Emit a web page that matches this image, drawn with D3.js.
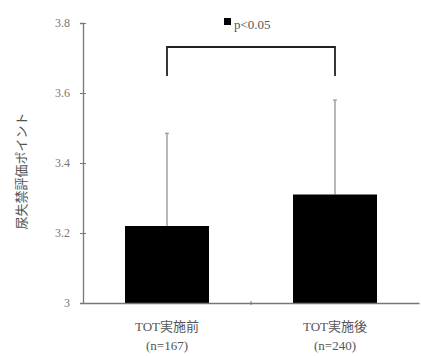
<!DOCTYPE html>
<html lang="ja">
<head>
<meta charset="utf-8">
<title>TOT bar chart</title>
<script src="https://cdn.jsdelivr.net/npm/d3@7"></script>
<style>
  body { margin: 0; background: #fff; }
  text { font-family: "Liberation Serif", "Noto Sans CJK JP", serif; fill: #555; }
</style>
</head>
<body>
<script>
// chart values
var groups = ["TOT実施前", "TOT実施後"];
var counts = ["(n=167)", "(n=240)"];
var means = [3.22, 3.31];
var sds = [0.265, 0.27];
var yTicks = [3, 3.2, 3.4, 3.6, 3.8];
var yLabel = "尿失禁評価ポイント";
var sigLabel = "p<0.05";

var W = 421, H = 356;
var plot = {left: 83, right: 419, top: 23, bottom: 303};

var svg = d3.select("body").append("svg")
    .attr("width", W)
    .attr("height", H);

var x = d3.scaleBand().domain(groups).range([plot.left, plot.right]).paddingInner(0).paddingOuter(0);
var y = d3.scaleLinear().domain([3, 3.8]).range([plot.bottom, plot.top]);

// error bars (drawn first, bar covers lower part)
var barW = x.bandwidth() / 2;
groups.forEach(function(g, i) {
    var cx = x(g) + x.bandwidth() / 2;
    svg.append("line")
        .attr("x1", cx).attr("x2", cx)
        .attr("y1", y(means[i])).attr("y2", y(means[i] + sds[i]))
        .attr("stroke", "#888").attr("stroke-width", 1.2);
    svg.append("line")
        .attr("x1", cx - 2).attr("x2", cx + 2)
        .attr("y1", y(means[i] + sds[i])).attr("y2", y(means[i] + sds[i]))
        .attr("stroke", "#888").attr("stroke-width", 1);
});

// bars
svg.selectAll(".bar")
    .data(groups)
    .enter().append("rect")
    .attr("class", "bar")
    .attr("x", function(d) { return x(d) + x.bandwidth() / 4; })
    .attr("width", barW)
    .attr("y", function(d, i) { return y(means[i]); })
    .attr("height", function(d, i) { return y(3) - y(means[i]); })
    .attr("fill", "#000");

// y axis
var yAxis = svg.append("g")
    .attr("transform", "translate(" + plot.left + ",0)")
    .call(d3.axisLeft(y).tickValues(yTicks).tickSize(3).tickPadding(10));
yAxis.attr("font-family", "Liberation Serif, serif");
yAxis.select(".domain").attr("stroke", "#777").attr("stroke-width", 1.3);
yAxis.selectAll(".tick line").attr("stroke", "#777").attr("x2", 3).attr("x1", -3);
yAxis.selectAll(".tick text").attr("font-size", 12).style("fill", "#777")
    .style("font-family", "'Liberation Serif', serif")
    .text(function(d) { return d === 3 ? "3" : d3.format(".1f")(d); });

// x axis
var xAxis = svg.append("g")
    .attr("transform", "translate(0," + plot.bottom + ")")
    .call(d3.axisBottom(x).tickSize(0).tickFormat(""));
xAxis.select(".domain").attr("stroke", "#777").attr("stroke-width", 1.3);
svg.append("line")
    .attr("x1", x(groups[1])).attr("x2", x(groups[1]))
    .attr("y1", plot.bottom - 2).attr("y2", plot.bottom + 2)
    .attr("stroke", "#777");

// category labels
groups.forEach(function(g, i) {
    var cx = x(g) + x.bandwidth() / 2;
    svg.append("text").attr("x", cx).attr("y", 331)
        .attr("text-anchor", "middle").attr("font-size", 13).text(g);
    svg.append("text").attr("x", cx).attr("y", 350)
        .attr("text-anchor", "middle").attr("font-size", 13).text(counts[i]);
});

// y label
svg.append("text")
    .attr("transform", "translate(26," + (y(3.4) + 8) + ") rotate(-90)")
    .attr("text-anchor", "middle")
    .attr("font-size", 13)
    .text(yLabel);

// significance bracket
var c1 = x(groups[0]) + x.bandwidth() / 2, c2 = x(groups[1]) + x.bandwidth() / 2;
svg.append("path")
    .attr("d", "M" + c1 + "," + 76 + "V47H" + c2 + "V76")
    .attr("fill", "none").attr("stroke", "#222").attr("stroke-width", 1.8);
svg.append("rect")
    .attr("x", 224).attr("y", 18).attr("width", 7).attr("height", 7).attr("fill", "#000");
svg.append("text").attr("x", 234).attr("y", 29).attr("font-size", 13).text(sigLabel);
</script>
</body>
</html>
